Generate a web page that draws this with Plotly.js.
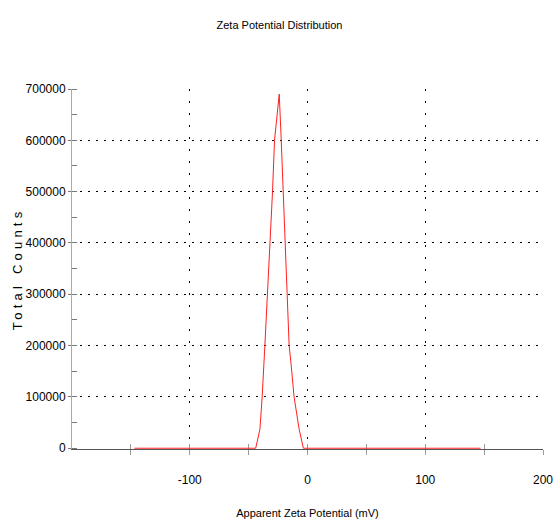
<!DOCTYPE html>
<html>
<head>
<meta charset="utf-8">
<script src="https://cdn.plot.ly/plotly-3.0.1.min.js"></script>
<style>
  html, body { margin: 0; padding: 0; background: #fff; }
  #chart { width: 559px; height: 525px; }
  .ytitle { letter-spacing: 4.2px; }
</style>
</head>
<body>
<div id="chart"></div>
<script>
// Apparent zeta potential (mV) and total counts
const zeta   = [-147, -44, -40.4, -38.5, -36.2, -33.9, -31.7, -29.7, -28, -24, -22.3, -20.7, -18.6, -17.3, -15.6, -13.9, -11.4, -7.1, -3.5, 147];
const counts = [0, 0, 37000, 100000, 200000, 300000, 400000, 500000, 600000, 690000, 600000, 500000, 400000, 300000, 200000, 163000, 100000, 37000, 0, 0];

// Axis tick values / labels
const xTickVals  = [-100, 0, 100, 200];
const xMinorVals = [-150, -50, 50, 150];
const xAllTicks  = [-150, -100, -50, 0, 50, 100, 150, 200];
const yTickVals  = [0, 100000, 200000, 300000, 400000, 500000, 600000, 700000];
const yTickText  = ['0', '100000', '200000', '300000', '400000', '500000', '600000', '700000'];

const sans = 'Liberation Sans, Arial, sans-serif';

const trace = {
  x: zeta,
  y: counts,
  type: 'scatter',
  mode: 'lines',
  line: { color: '#ff2020', width: 1 },
  hoverinfo: 'skip',
  showlegend: false
};

const layout = {
  width: 559,
  height: 525,
  margin: { l: 72, r: 16, t: 89, b: 76 },
  paper_bgcolor: '#fff',
  plot_bgcolor: '#fff',
  showlegend: false,
  title: {
    text: 'Zeta Potential Distribution',
    x: 0.5, xref: 'container', xanchor: 'center',
    y: 1 - 25 / 525, yref: 'container', yanchor: 'middle',
    font: { family: sans, size: 11, color: '#000' }
  },
  xaxis: {
    range: [-200, 200],
    tickmode: 'array',
    tickvals: xTickVals,
    ticktext: xTickVals.map(String),
    ticks: 'outside',
    ticklen: 5,
    tickcolor: '#9a9a9a',
    ticklabelstandoff: 15,
    minor: { tickvals: xMinorVals, ticks: 'outside', ticklen: 5, tickcolor: '#9a9a9a', showgrid: false },
    showgrid: true,
    gridcolor: '#000',
    gridwidth: 1,
    griddash: '2px,10px',
    zeroline: false,
    showline: true,
    linecolor: '#555',
    linewidth: 1,
    layer: 'below traces',
    tickfont: { family: sans, size: 12, color: '#000' },
    title: {
      text: 'Apparent Zeta Potential (mV)',
      font: { family: sans, size: 11, color: '#000' },
      standoff: 22
    },
    fixedrange: true
  },
  xaxis2: {
    overlaying: 'x',
    anchor: 'y',
    side: 'bottom',
    range: [-200, 200],
    tickmode: 'array',
    tickvals: xAllTicks,
    ticks: 'inside',
    ticklen: 5,
    tickcolor: '#9a9a9a',
    showticklabels: false,
    showgrid: false,
    zeroline: false,
    showline: false,
    layer: 'below traces',
    fixedrange: true
  },
  yaxis: {
    range: [-1500, 700000],
    tickmode: 'array',
    tickvals: yTickVals,
    ticktext: yTickText,
    ticks: 'outside',
    ticklen: 3,
    tickcolor: '#777',
    minor: { dtick: 50000, tick0: 0, ticks: 'inside', ticklen: 5, tickcolor: '#777', showgrid: false },
    showgrid: true,
    gridcolor: '#000',
    gridwidth: 1,
    griddash: '2px,6px',
    zeroline: false,
    showline: true,
    linecolor: '#aaa',
    linewidth: 1,
    layer: 'below traces',
    tickfont: { family: sans, size: 12, color: '#000' },
    title: {
      text: 'Total Counts',
      font: { family: sans, size: 13, color: '#000' },
      standoff: 0
    },
    fixedrange: true
  }
};

Plotly.newPlot('chart', [trace, { x: [], y: [], xaxis: 'x2', yaxis: 'y', type: 'scatter', showlegend: false, hoverinfo: 'skip' }], layout, { staticPlot: true, displayModeBar: false });
</script>
</body>
</html>
